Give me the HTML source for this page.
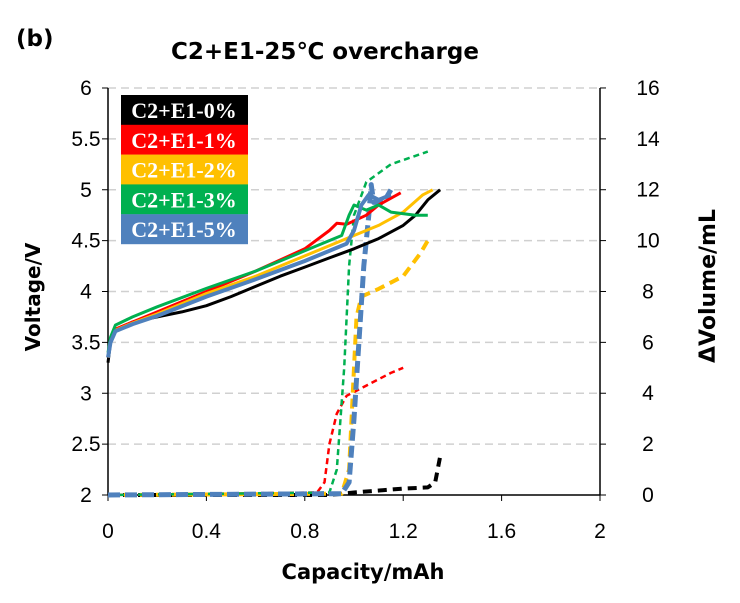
<!DOCTYPE html>
<html><head><meta charset="utf-8"><style>
body{margin:0;background:#fff}
svg text{font-family:"DejaVu Sans","Liberation Sans",sans-serif}
svg text.lg{font-family:"Liberation Serif",serif;font-weight:bold}
svg text.tk{font-family:"Liberation Sans",sans-serif}
</style></head><body>
<svg id="chart" width="740" height="598" xmlns="http://www.w3.org/2000/svg">
<text x="16" y="46" font-size="23" font-weight="bold">(b)</text>
<text x="325" y="59" font-size="23" font-weight="bold" text-anchor="middle">C2+E1-25℃ overcharge</text>
<g id="grid"></g><g id="axes"></g><g id="series"></g>
<g font-size="22" fill="#fff" id="legend"></g>
<text x="363" y="579" font-size="21" font-weight="bold" text-anchor="middle">Capacity/mAh</text>
<text transform="translate(40,297) rotate(-90)" font-size="20" font-weight="bold" text-anchor="middle">Voltage/V</text>
<text transform="translate(715,286) rotate(-90)" font-size="22" font-weight="bold" text-anchor="middle">ΔVolume/mL</text>
</svg>
<script>
const xTicks=[0,0.4,0.8,1.2,1.6,2];
const xTickLabels=["0","0.4","0.8","1.2","1.6","2"];
const yTicks=[2,2.5,3,3.5,4,4.5,5,5.5,6];
const yTickLabels=["2","2.5","3","3.5","4","4.5","5","5.5","6"];
const y2Ticks=[0,2,4,6,8,10,12,14,16];
const seriesNames=["C2+E1-0%","C2+E1-1%","C2+E1-2%","C2+E1-3%","C2+E1-5%"];
const seriesColors=["#000000","#ff0000","#ffc000","#00b050","#4f81bd"];
const voltBlackCap=[0,0.01,0.03,0.1,0.2,0.3,0.4,0.5,0.6,0.7,0.8,0.9,1.0,1.1,1.2,1.25,1.3,1.35];
const voltBlack=[3.3,3.5,3.62,3.7,3.75,3.8,3.86,3.95,4.05,4.15,4.24,4.33,4.42,4.52,4.65,4.75,4.9,5.0];
const voltRedCap=[0,0.01,0.03,0.1,0.2,0.4,0.6,0.8,0.9,0.93,0.97,1.05,1.1,1.19];
const voltRed=[3.35,3.52,3.63,3.7,3.8,4.0,4.2,4.42,4.6,4.67,4.66,4.75,4.85,4.97];
const voltYellowCap=[0,0.01,0.03,0.1,0.2,0.4,0.6,0.8,1.0,1.1,1.2,1.28,1.32];
const voltYellow=[3.35,3.5,3.62,3.69,3.78,3.98,4.15,4.35,4.55,4.65,4.78,4.95,5.0];
const voltGreenCap=[0,0.01,0.03,0.1,0.2,0.4,0.6,0.8,0.95,0.98,1.0,1.05,1.1,1.15,1.25,1.3];
const voltGreen=[3.4,3.55,3.67,3.75,3.85,4.03,4.2,4.4,4.55,4.75,4.85,4.8,4.85,4.78,4.75,4.75];
const voltBlueCap=[0,0.01,0.03,0.1,0.2,0.4,0.6,0.8,0.97,1.0,1.03,1.06,1.1,1.15];
const voltBlue=[3.35,3.5,3.61,3.68,3.76,3.95,4.12,4.3,4.47,4.6,4.85,4.95,4.9,4.95];
const volBlackCap=[0,0.9,1.0,1.2,1.3,1.33,1.35,1.36];
const volBlack=[0,0,0.1,0.25,0.3,0.5,1.5,1.6];
const volRedCap=[0,0.85,0.88,0.9,0.93,0.97,1.05,1.15,1.2];
const volRed=[0,0.1,0.5,2,3.2,3.9,4.3,4.8,5.0];
const volYellowCap=[0,0.95,0.98,1.0,1.01,1.03,1.1,1.2,1.27,1.3];
const volYellow=[0,0.05,1,5,7,7.8,8.1,8.6,9.5,10.0];
const volGreenCap=[0,0.9,0.93,0.96,0.98,1.0,1.05,1.15,1.3];
const volGreen=[0,0.1,1,5,9,11,12.3,13.0,13.5];
const volBlueCap=[0,0.95,0.98,1.0,1.02,1.04,1.06,1.07,1.08,1.12,1.15];
const volBlue=[0,0.05,0.5,3,6,9,11,12.2,11.5,11.5,12];

const X=c=>108+c*246, YV=v=>495-(v-2)*101.75, YR=m=>495-m*25.44;
const NS="http://www.w3.org/2000/svg";
function mk(tag,parent,attrs){const e=document.createElementNS(NS,tag);for(const k in attrs)e.setAttribute(k,attrs[k]);parent.appendChild(e);return e;}
const grid=document.getElementById('grid'),axes=document.getElementById('axes'),ser=document.getElementById('series'),leg=document.getElementById('legend');
yTicks.forEach((v,i)=>{
  if(i>0){const g=mk('line',grid,{x1:108,x2:600,y1:YV(v),y2:YV(v),stroke:'#d0d0d0','stroke-width':1.5,'stroke-dasharray':'8,5'});
  
  }
  mk('line',axes,{x1:102,x2:108,y1:YV(v),y2:YV(v),stroke:'#000'});
  const l=mk('text',axes,{x:86,y:YV(v)+7,'font-size':21,'text-anchor':'middle',class:'tk'});l.textContent=yTickLabels[i];
  
  
});
y2Ticks.forEach(m=>{
  mk('line',axes,{x1:600,x2:606,y1:YR(m),y2:YR(m),stroke:'#000'});
  const l=mk('text',axes,{x:648,y:YR(m)+7,'font-size':21,'text-anchor':'middle',class:'tk'});l.textContent=m;
  
  
});
xTicks.forEach((c,i)=>{
  mk('line',axes,{x1:X(c),x2:X(c),y1:495,y2:501,stroke:'#000'});
  const l=mk('text',axes,{x:X(c),y:538,'font-size':21,'text-anchor':'middle',class:'tk'});l.textContent=xTickLabels[i];
  
  
});
mk('line',axes,{x1:108,x2:108,y1:88,y2:495,stroke:'#000','stroke-width':1.5});
mk('line',axes,{x1:600,x2:600,y1:88,y2:495,stroke:'#000','stroke-width':1.5});
mk('line',axes,{x1:108,x2:600,y1:495,y2:495,stroke:'#000','stroke-width':1.5});
function path(cs,vs,yf){return cs.map((c,i)=>(i?'L':'M')+X(c).toFixed(1)+','+yf(vs[i]).toFixed(1)).join(' ');}
const volt=[[voltBlackCap,voltBlack,3],[voltRedCap,voltRed,3],[voltYellowCap,voltYellow,3],[voltGreenCap,voltGreen,3],[voltBlueCap,voltBlue,4]];
const vol=[[volBlackCap,volBlack,4,'9,6'],[volRedCap,volRed,2.5,'6,4'],[volYellowCap,volYellow,4,'10,6'],[volGreenCap,volGreen,2.5,'6,4'],[volBlueCap,volBlue,5,'12,5']];
vol.forEach((s,i)=>{
  const p=mk('path',ser,{d:path(s[0],s[1],YR),fill:'none',stroke:seriesColors[i],'stroke-width':s[2],'stroke-dasharray':s[3],'stroke-linejoin':'round'});
  
  
});
volt.forEach((s,i)=>{
  const p=mk('path',ser,{d:path(s[0],s[1],YV),fill:'none',stroke:seriesColors[i],'stroke-width':s[2],'stroke-linejoin':'round'});
  
  
});
seriesNames.forEach((n,i)=>{
  const r=mk('rect',leg,{x:121,y:95+i*29.8,width:127,height:30,fill:seriesColors[i]});
  
  
  const t=mk('text',leg,{x:184,y:95+i*29.8+23,'text-anchor':'middle',class:'lg'});t.textContent=n;
  
  
});
</script>
</body></html>
